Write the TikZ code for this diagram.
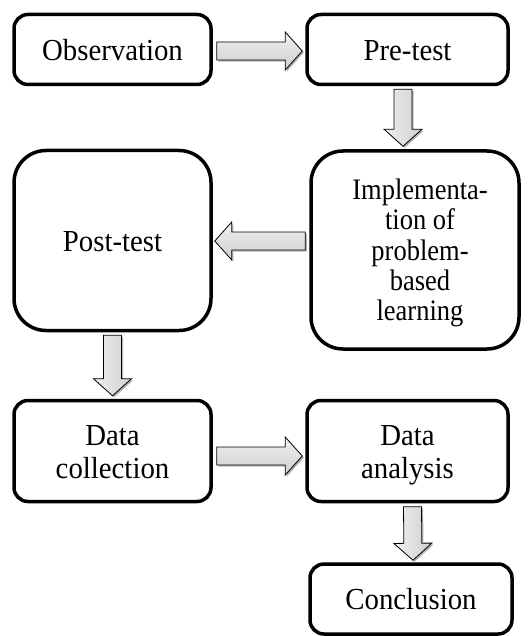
\documentclass[tikz,border=0pt]{standalone}
\usepackage{fontspec}
\usepackage{graphicx}
\setmainfont{Liberation Serif}
\usetikzlibrary{calc,shadows}
\tikzset{
  box/.style={draw=black, line width=3.5pt, fill=white, rounded corners=14pt,
    inner sep=0pt, align=center, font=\fontsize{28.8}{31}\selectfont},
  bigbox/.style={box, rounded corners=32pt},
  fatarr/.style={draw=black, line width=0.8pt, line join=miter,
    drop shadow={shadow xshift=1.6pt, shadow yshift=-1.6pt, fill=black, opacity=0.3}},
  hshade/.style={top color=gray!12, bottom color=gray!38},
  vshade/.style={left color=gray!12, right color=gray!38},
}
% text block, stretched vertically by the optional factor, set a little lower
\newcommand\bt[2][1.06]{\raisebox{-4pt}[\height][\depth]{\scalebox{1}[#1]{\begin{tabular}{@{}c@{}}#2\end{tabular}}}}
% fat outlined arrow from tail #2 to tip #3, style #1
\newcommand\fatarrow[3]{%
  \coordinate (fa-h) at ($(#3)!17pt!(#2)$);
  \path[fatarr,#1] ($(#2)!9pt!-90:(#3)$) -- ($(fa-h)!9pt!90:(#2)$)
    -- ($(fa-h)!19pt!90:(#2)$) -- (#3) -- ($(fa-h)!19pt!-90:(#2)$)
    -- ($(fa-h)!9pt!-90:(#2)$) -- ($(#2)!9pt!90:(#3)$) -- cycle;}
\begin{document}
\begin{tikzpicture}[x=1pt, y=-1pt]
\useasboundingbox (0,0) rectangle (530,636);
\node[box, minimum width=197pt, minimum height=70pt] (obs) at (112.5,49.5) {\bt{Observation}};
\node[box, minimum width=201pt, minimum height=70pt] (pre) at (407.5,49.5) {\bt{Pre-test}};
\node[bigbox, minimum width=197pt, minimum height=180pt] (post) at (112.5,240.5) {\bt{Post-test}};
\node[bigbox, minimum width=208pt, minimum height=198pt, font=\fontsize{26.5}{27}\selectfont] (impl) at (415,250)
  {\hspace*{10pt}\bt[1.12]{Implementa-\\tion of\\problem-\\based\\learning}};
\node[box, minimum width=197pt, minimum height=101pt] (dcoll) at (112.5,451) {\bt{Data\\collection}};
\node[box, minimum width=201pt, minimum height=101pt] (danal) at (407.5,451) {\bt{Data\\analysis}};
\node[box, minimum width=202pt, minimum height=70pt] (concl) at (411,599) {\bt{Conclusion}};

\coordinate (a1t) at ($(obs.east)+(4,1.5)$);
\coordinate (a1h) at ($(pre.west)+(-3,1.5)$);
\fatarrow{hshade}{a1t}{a1h}
\coordinate (a2t) at ($(pre.south)+(-4.5,3)$);
\coordinate (a2h) at ($(impl.north)+(-12,-3)$);
\fatarrow{vshade}{a2t}{a2h}
\coordinate (a3t) at ($(impl.west)+(-4,-9)$);
\coordinate (a3h) at ($(post.east)+(2,0.5)$);
\fatarrow{hshade}{a3t}{a3h}
\coordinate (a4t) at ($(post.south)+(0,3)$);
\coordinate (a4h) at ($(dcoll.north)+(0,-3)$);
\fatarrow{vshade}{a4t}{a4h}
\coordinate (a5t) at ($(dcoll.east)+(4,5)$);
\coordinate (a5h) at ($(danal.west)+(-3,5)$);
\fatarrow{hshade}{a5t}{a5h}
\coordinate (a6t) at ($(danal.south)+(5,3.5)$);
\coordinate (a6h) at ($(concl.north)+(2,-2)$);
\fatarrow{vshade}{a6t}{a6h}
\end{tikzpicture}
\end{document}
